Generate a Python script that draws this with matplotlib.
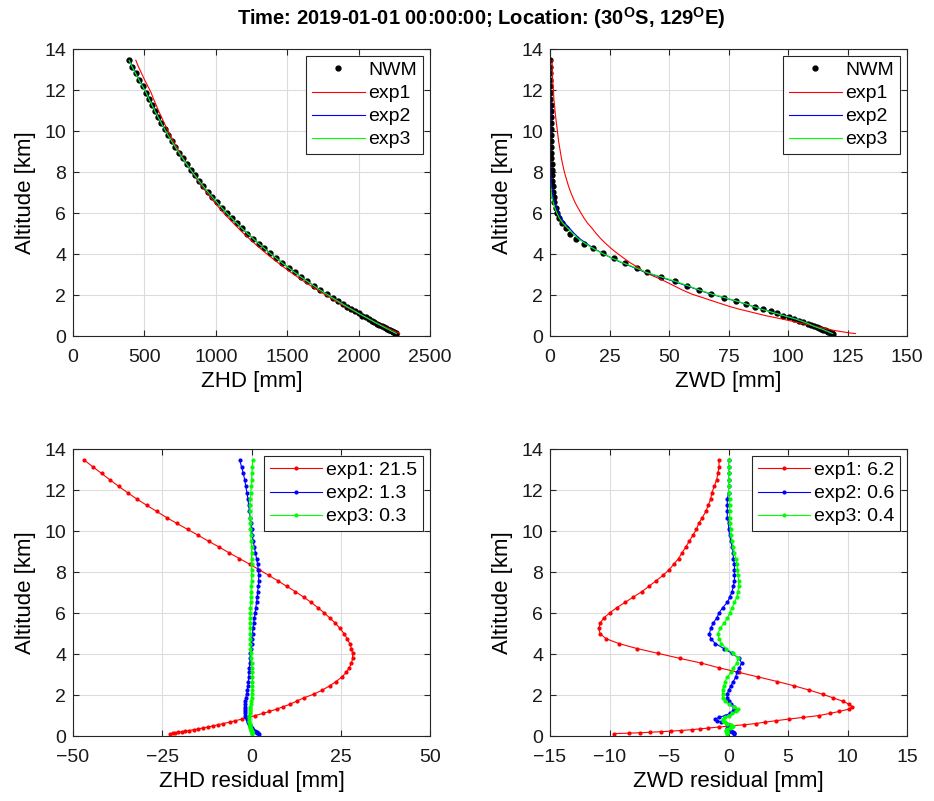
import matplotlib
matplotlib.use("Agg")
import matplotlib.pyplot as plt
import numpy as np

plt.rcParams['font.family'] = ['Liberation Sans', 'DejaVu Sans']
plt.rcParams['mathtext.fontset'] = 'custom'
plt.rcParams['mathtext.rm'] = 'Liberation Sans'
plt.rcParams['mathtext.bf'] = 'Liberation Sans:bold'

# model levels [km]
alt = [13.45, 13.13, 12.81, 12.49, 12.18, 11.87, 11.56, 11.26, 10.96, 10.66,
       10.37, 10.08, 9.79, 9.50, 9.22, 8.94, 8.66, 8.38, 8.11, 7.84,
       7.57, 7.30, 7.04, 6.78, 6.52, 6.26, 6.00, 5.75, 5.50, 5.25,
       5.00, 4.75, 4.51, 4.27, 4.03, 3.79, 3.56, 3.33, 3.10, 2.88,
       2.66, 2.45, 2.24, 2.04, 1.86, 1.70, 1.56, 1.43, 1.31, 1.20,
       1.10, 1.00, 0.91, 0.83, 0.75, 0.68, 0.61, 0.55, 0.49, 0.44,
       0.39, 0.35, 0.31, 0.27, 0.24, 0.21, 0.185, 0.16, 0.14, 0.12]

# NWM delays [mm]
zhd_nwm = [393, 414, 438, 462, 487, 512, 532, 553, 574, 597,
           619, 642, 666, 691, 716, 742, 769, 796, 824, 853,
           882, 913, 943, 975, 1008, 1041, 1076, 1111, 1147, 1183,
           1221, 1261, 1300, 1340, 1381, 1424, 1466, 1509, 1553, 1597,
           1642, 1687, 1732, 1777, 1818, 1855, 1888, 1919, 1949, 1976,
           2001, 2027, 2050, 2071, 2092, 2110, 2129, 2145, 2162, 2175,
           2189, 2200, 2211, 2223, 2231, 2240, 2247, 2254, 2260, 2265]

zwd_nwm = [0.1, 0.1, 0.1, 0.1, 0.1, 0.1, 0.1, 0.2, 0.2, 0.2,
           0.2, 0.3, 0.3, 0.3, 0.4, 0.5, 0.6, 0.7, 0.8, 0.9,
           1.0, 1.1, 1.3, 1.5, 1.8, 2.3, 3.0, 3.8, 5.0, 6.8,
           8.6, 11.0, 14.2, 18.0, 22.4, 27.0, 31.6, 36.4, 40.8, 46.8,
           52.6, 57.6, 62.5, 67.6, 73.3, 78.2, 82.4, 86.2, 89.6, 92.7,
           95.4, 98.0, 100.4, 102.6, 104.6, 106.4, 108.3, 109.8, 111.0, 112.0,
           113.0, 113.9, 114.7, 115.5, 116.2, 116.9, 117.4, 117.9, 118.3, 118.7]

# residuals NWM - exp [mm]
zhd_res1 = [-46.8, -44.4, -42.0, -39.6, -37.2, -34.7, -32.1, -29.4, -26.6, -23.8,
            -20.9, -17.9, -14.9, -12.0, -9.1, -6.3, -3.4, -0.5, 2.2, 4.8,
            7.4, 9.9, 12.3, 14.6, 16.7, 18.6, 20.4, 22.0, 23.5, 24.8,
            25.9, 26.8, 27.5, 28.0, 28.3, 28.3, 28.0, 27.4, 26.5, 25.3,
            23.7, 21.9, 19.8, 17.4, 14.6, 12.6, 10.9, 8.9, 7.0, 5.0,
            3.1, 1.0, -0.9, -2.6, -4.5, -6.1, -7.9, -9.4, -10.9, -12.3,
            -13.7, -15.0, -16.2, -17.5, -18.5, -19.6, -20.5, -21.4, -22.1, -22.8]

zhd_res2 = [-3.3, -2.8, -2.3, -1.9, -1.6, -1.3, -1.0, -0.8, -0.6, -0.4,
            -0.2, 0.0, 0.2, 0.5, 0.8, 1.1, 1.4, 1.7, 1.9, 2.0,
            2.0, 1.9, 1.7, 1.6, 1.4, 1.2, 1.0, 0.8, 0.6, 0.4,
            0.3, 0.1, 0.0, -0.2, -0.3, -0.4, -0.5, -0.6, -0.7, -0.8,
            -0.9, -1.0, -1.2, -1.4, -1.6, -1.7, -1.8, -1.9, -1.9, -1.9,
            -1.8, -1.7, -1.5, -1.3, -1.1, -0.9, -0.7, -0.5, -0.4, -0.2,
            0.0, 0.2, 0.4, 0.7, 0.9, 1.2, 1.4, 1.6, 1.8, 2.1]

zhd_res3 = [0.3, 0.2, 0.1, 0.0, -0.1, -0.2, -0.3, -0.4, -0.4, -0.4,
            -0.4, -0.3, -0.2, -0.1, 0.0, 0.0, 0.0, 0.0, 0.0, 0.0,
            0.0, -0.1, -0.1, -0.2, -0.2, -0.3, -0.3, -0.4, -0.4, -0.4,
            -0.4, -0.4, -0.3, -0.3, -0.2, -0.1, 0.0, 0.1, 0.2, 0.2,
            0.2, 0.2, 0.2, 0.1, 0.0, -0.1, -0.2, -0.3, -0.4, -0.5,
            -0.5, -0.6, -0.6, -0.6, -0.6, -0.6, -0.5, -0.5, -0.4, -0.3,
            -0.3, -0.2, -0.1, -0.1, 0.0, 0.0, 0.1, 0.1, 0.2, 0.2]

zwd_res1 = [-0.8, -0.8, -0.9, -1.0, -1.2, -1.4, -1.5, -1.7, -1.9, -2.2,
            -2.5, -2.7, -3.0, -3.3, -3.6, -3.9, -4.2, -4.6, -5.0, -5.5,
            -6.1, -6.7, -7.3, -8.0, -8.7, -9.4, -10.0, -10.5, -10.8, -10.9,
            -10.8, -10.3, -9.2, -7.7, -5.9, -4.1, -2.3, -0.8, 0.9, 2.5,
            4.1, 5.5, 6.8, 7.9, 8.8, 9.6, 10.1, 10.4, 10.1, 9.3,
            8.5, 7.6, 6.3, 5.1, 4.0, 3.1, 2.3, 1.3, 0.1, -0.8,
            -1.7, -2.4, -3.1, -4.0, -4.8, -5.7, -6.6, -7.4, -8.4, -9.6]

zwd_res2 = [0.0, 0.0, 0.0, 0.0, 0.0, 0.0, -0.1, -0.1, -0.1, -0.1,
            0.0, 0.0, 0.1, 0.2, 0.3, 0.4, 0.4, 0.5, 0.5, 0.5,
            0.5, 0.4, 0.3, 0.1, -0.1, -0.5, -0.8, -1.0, -1.3, -1.5,
            -1.6, -1.5, -1.1, -0.4, 0.3, 0.9, 1.1, 0.9, 0.7, 0.6,
            0.4, 0.2, 0.0, -0.1, -0.1, 0.0, 0.2, 0.5, 0.5, 0.4,
            0.1, -0.3, -0.8, -1.1, -1.0, -0.6, -0.1, 0.1, 0.2, 0.1,
            -0.1, -0.1, 0.0, 0.1, 0.2, 0.3, 0.4, 0.5, 0.5, 0.5]

zwd_res3 = [0.0, 0.0, 0.0, 0.0, 0.0, 0.0, 0.1, 0.1, 0.1, 0.1,
            0.1, 0.2, 0.2, 0.3, 0.4, 0.5, 0.6, 0.7, 0.75, 0.8,
            0.85, 0.85, 0.8, 0.7, 0.5, 0.3, 0.1, -0.1, -0.4, -0.7,
            -0.9, -0.8, -0.6, -0.2, 0.4, 0.8, 0.7, 0.4, 0.2, -0.1,
            -0.3, -0.4, -0.5, -0.5, -0.5, -0.3, 0.0, 0.5, 0.8, 0.6,
            0.3, 0.0, -0.3, -0.5, -0.5, -0.3, -0.1, 0.2, 0.4, 0.3,
            0.1, -0.1, -0.2, -0.2, -0.1, -0.1, -0.1, -0.1, -0.1, -0.1]

exp_names = ['exp1', 'exp2', 'exp3']
exp_colors = ['#ff0000', '#0000ff', '#00ff00']
zhd_rms_labels = ['21.5', '1.3', '0.3']
zwd_rms_labels = ['6.2', '0.6', '0.4']

title = r'Time: 2019-01-01 00:00:00; Location: (30$^{\mathbf{O}}$S, 129$^{\mathbf{O}}$E)'

zhd_res = [zhd_res1, zhd_res2, zhd_res3]
zwd_res = [zwd_res1, zwd_res2, zwd_res3]

fig = plt.figure(figsize=(9.34, 8.01), dpi=100)
w, h = 0.3822, 0.3583
ax_zhd = fig.add_axes([0.0782, 0.5805, w, h])
ax_zwd = fig.add_axes([0.5889, 0.5805, w, h])
ax_zhd_r = fig.add_axes([0.0782, 0.0811, w, h])
ax_zwd_r = fig.add_axes([0.5889, 0.0811, w, h])

fs_tick = 14
fs_label = 16


def style(ax, xlim, xticks, xlabel):
    ax.set_xlim(xlim)
    ax.set_xticks(xticks)
    ax.set_ylim(0, 14)
    ax.set_yticks(range(0, 15, 2))
    ax.grid(True, color='#dcdcdc', linewidth=0.8)
    ax.set_axisbelow(True)
    ax.tick_params(direction='in', top=True, right=True, labelsize=fs_tick,
                   length=4, width=0.8, colors='#262626', labelcolor='#1a1a1a')
    ax.tick_params(axis='x', pad=9)
    ax.tick_params(axis='y', pad=5)
    for s in ax.spines.values():
        s.set_color('#262626')
        s.set_linewidth(0.8)
    ax.set_xlabel(xlabel, fontsize=fs_label, labelpad=4)
    ax.set_ylabel('Altitude [km]', fontsize=fs_label, labelpad=6)


def legend(ax):
    leg = ax.legend(loc='upper right', fontsize=fs_tick, fancybox=False,
                    framealpha=1, edgecolor='#262626', borderaxespad=0.35,
                    handlelength=2.7, labelspacing=0.28, borderpad=0.3,
                    handletextpad=0.2)
    leg.get_frame().set_linewidth(0.8)


# delays
for ax, nwm, res in [(ax_zhd, zhd_nwm, zhd_res), (ax_zwd, zwd_nwm, zwd_res)]:
    nwm = np.array(nwm)
    ax.plot(nwm, alt, '.', color='black', markersize=7, label='NWM')
    for name, c, r in zip(exp_names, exp_colors, res):
        ax.plot(nwm - np.array(r), alt, '-', color=c, linewidth=0.8, label=name)

style(ax_zhd, (0, 2500), range(0, 2501, 500), 'ZHD [mm]')
style(ax_zwd, (0, 150), range(0, 151, 25), 'ZWD [mm]')
legend(ax_zhd)
legend(ax_zwd)

# residuals
for ax, res, labs in [(ax_zhd_r, zhd_res, zhd_rms_labels), (ax_zwd_r, zwd_res, zwd_rms_labels)]:
    for name, c, r, lab in zip(exp_names, exp_colors, res, labs):
        ax.plot(r, alt, '.-', color=c, linewidth=0.8, markersize=4,
                label=name + ': ' + lab)

style(ax_zhd_r, (-50, 50), range(-50, 51, 25), 'ZHD residual [mm]')
style(ax_zwd_r, (-15, 15), range(-15, 16, 5), 'ZWD residual [mm]')
legend(ax_zhd_r)
legend(ax_zwd_r)

fig.text(0.515, 0.977, title, ha='center', va='center', fontsize=14.5,
         fontweight='bold')

fig.savefig('out.png', dpi=100)
